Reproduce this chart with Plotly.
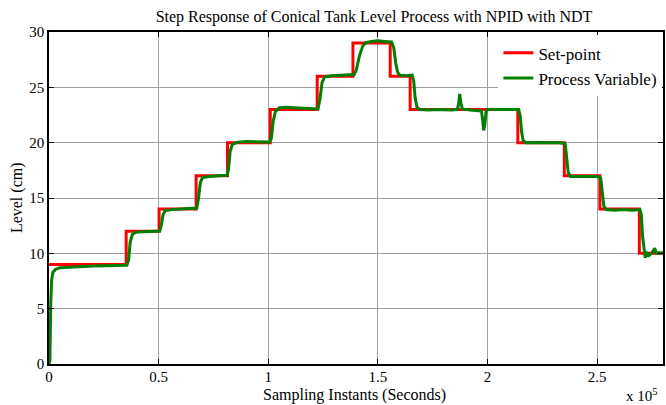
import plotly.graph_objects as go

# Set-point (step changes), time in units of 1e5 seconds
sp_time = [0, 0.352, 0.502, 0.671, 0.814, 1.009, 1.223, 1.386, 1.556, 1.647,
           2.138, 2.350, 2.512, 2.692, 2.80]
sp_level = [9, 12, 14, 17, 20, 23, 26, 29, 26, 23, 20, 17, 14, 10, 10]

# Process variable
pv_time = [0.000, 0.004, 0.008, 0.012, 0.018, 0.03, 0.05, 0.08, 0.12, 0.16, 0.20,
           0.25, 0.30, 0.355, 0.363, 0.370, 0.380, 0.395, 0.43, 0.47, 0.505,
           0.513, 0.520, 0.530, 0.56, 0.60, 0.64, 0.674, 0.682, 0.690, 0.700,
           0.73, 0.77, 0.812, 0.818, 0.826, 0.836, 0.86, 0.90, 0.95, 1.005,
           1.014, 1.022, 1.032, 1.05, 1.08, 1.12, 1.16, 1.20, 1.227, 1.236,
           1.245, 1.257, 1.29, 1.33, 1.37, 1.392, 1.402, 1.415, 1.43, 1.445,
           1.47, 1.50, 1.53, 1.562, 1.572, 1.581, 1.590, 1.60, 1.63, 1.656,
           1.663, 1.670, 1.678, 1.69, 1.73, 1.78, 1.83, 1.862, 1.868, 1.873,
           1.878, 1.885, 1.92, 1.95, 1.972, 1.978, 1.982, 1.987, 1.993, 2.00,
           2.05, 2.10, 2.142, 2.149, 2.155, 2.162, 2.175, 2.22, 2.28, 2.33,
           2.354, 2.361, 2.368, 2.378, 2.42, 2.46, 2.50, 2.516, 2.523, 2.530,
           2.540, 2.58, 2.62, 2.66, 2.695, 2.701, 2.707, 2.713, 2.719, 2.726,
           2.736, 2.75, 2.762, 2.77, 2.80]
pv_level = [0.0, 0.3, 5.5, 7.6, 8.3, 8.55, 8.7, 8.75, 8.8, 8.82, 8.85,
            8.88, 8.9, 8.92, 9.4, 11.0, 11.7, 11.9, 11.95, 12.0, 12.02,
            12.6, 13.5, 13.85, 13.95, 14.0, 14.05, 14.1, 15.0, 16.4, 16.85,
            16.95, 17.0, 17.05, 17.5, 19.2, 19.85, 20.05, 20.1, 20.1, 20.05,
            20.4, 21.9, 22.8, 23.15, 23.2, 23.15, 23.1, 23.05, 23.05, 24.0,
            25.4, 25.95, 26.05, 26.1, 26.1, 26.15, 26.6, 27.8, 28.7, 29.05,
            29.15, 29.2, 29.15, 29.1, 28.6, 27.2, 26.35, 26.1, 26.05, 26.1,
            25.6, 24.0, 23.2, 23.0, 22.95, 23.0, 22.95, 23.0, 23.5, 24.4,
            23.6, 23.05, 22.95, 22.9, 22.85, 22.0, 21.1, 21.6, 22.8, 23.0,
            23.0, 22.98, 23.0, 22.4, 21.0, 20.2, 20.0, 20.02, 19.98, 20.0,
            19.9, 18.6, 17.3, 16.95, 16.95, 17.0, 16.95, 16.8, 15.5, 14.3,
            13.95, 13.9, 13.95, 13.9, 13.95, 13.5, 11.5, 10.2, 9.6, 10.0,
            9.8, 10.05, 10.45, 10.0, 10.05]

x_ticks = [0, 0.5, 1, 1.5, 2, 2.5]
x_ticklabels = ["0", "0.5", "1", "1.5", "2", "2.5"]
y_ticks = [0, 5, 10, 15, 20, 25, 30]

FONT = "Liberation Serif"

fig = go.Figure()
fig.add_trace(go.Scatter(x=sp_time, y=sp_level, mode="lines", line_shape="hv",
                         line=dict(color="#ff0000", width=3), name="Set-point"))
fig.add_trace(go.Scatter(x=pv_time, y=pv_level, mode="lines",
                         line=dict(color="#008000", width=3),
                         name="Process Variable)"))

axis_common = dict(showline=True, linecolor="black", linewidth=1.5, mirror="ticks",
                   ticks="inside", ticklen=5, tickcolor="black", showgrid=True,
                   gridcolor="#a0a0a0", gridwidth=1, zeroline=False,
                   tickfont=dict(family=FONT, size=15, color="black"))

fig.update_xaxes(range=[0, 2.8], tickvals=x_ticks, ticktext=x_ticklabels,
                 ticklabelstandoff=-2, **axis_common)
fig.update_yaxes(range=[0, 30], tickvals=y_ticks, **axis_common)

fig.update_layout(
    width=666, height=405,
    margin=dict(l=49, r=1, t=32, b=41),
    plot_bgcolor="white", paper_bgcolor="white",
    font=dict(family=FONT, size=16, color="black"),
    title=dict(text="Step Response of Conical Tank Level Process with NPID with NDT",
               x=0.5616, xanchor="center", xref="container",
               y=1 - 16 / 405, yanchor="middle", yref="container",
               font=dict(family=FONT, size=16, color="black")),
    legend=dict(x=0.999, xanchor="right", y=0.99, yanchor="top",
                bgcolor="white", borderwidth=0,
                font=dict(family=FONT, size=17, color="black"),
                itemwidth=30, tracegroupgap=0),
    showlegend=True,
)

fig.add_annotation(text="Sampling Instants (Seconds)", xref="paper", yref="paper",
                   x=0.497, y=(364 - 394.5) / 332, xanchor="center", yanchor="middle",
                   showarrow=False, font=dict(family=FONT, size=16, color="black"))
fig.add_annotation(text="Level (cm)", xref="paper", yref="paper",
                   x=(17 - 49) / 616, y=0.5, xanchor="center", yanchor="middle",
                   textangle=-90, showarrow=False,
                   font=dict(family=FONT, size=16, color="black"))
fig.add_annotation(text="x 10<sup>5</sup>", xref="paper", yref="paper",
                   x=(662 - 49) / 616, y=(364 - 395) / 332, xanchor="right",
                   yanchor="middle", showarrow=False,
                   font=dict(family=FONT, size=15, color="black"))

fig.write_html("out.html")
